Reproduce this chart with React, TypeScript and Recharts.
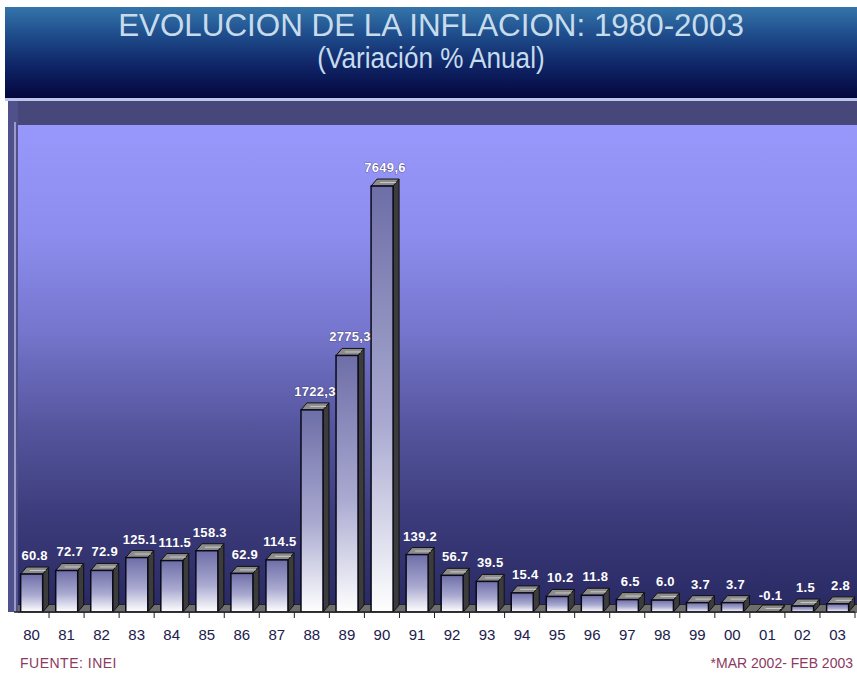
import { BarChart, Bar, XAxis, YAxis, LabelList } from 'recharts'

const years = ['80', '81', '82', '83', '84', '85', '86', '87', '88', '89', '90', '91', '92', '93', '94', '95', '96', '97', '98', '99', '00', '01', '02', '03']
const inflation = [60.8, 72.7, 72.9, 125.1, 111.5, 158.3, 62.9, 114.5, 1722.3, 2775.3, 7649.6, 139.2, 56.7, 39.5, 15.4, 10.2, 11.8, 6.5, 6.0, 3.7, 3.7, -0.1, 1.5, 2.8]
const valueLabels = ['60.8', '72.7', '72.9', '125.1', '111.5', '158.3', '62.9', '114.5', '1722,3', '2775,3', '7649,6', '139.2', '56.7', '39.5', '15.4', '10.2', '11.8', '6.5', '6.0', '3.7', '3.7', '-0.1', '1.5', '2.8']

const data = years.map((year, i) => ({ year, value: inflation[i], label: valueLabels[i] }))

const W = 857
const H = 674
const M = { top: 125, right: 2, left: 14, bottom: 32 }
const BAND = (W - M.left - M.right) / years.length
const DX = 6
const DY = -7
const BASE = H - M.bottom - 30

function Bar3D(props: any) {
  const { x, y, width, height, index } = props
  const top = height >= 0 ? y : y + height
  const h = Math.max(Math.abs(height), 1)
  const id = `front-${index}`
  return (
    <g>
      <defs>
        <linearGradient id={id} x1="0" y1="0" x2="0" y2="1">
          <stop offset="0%" stopColor="#6e6ea8" />
          <stop offset="55%" stopColor="#a8a8d0" />
          <stop offset="100%" stopColor="#ffffff" />
        </linearGradient>
      </defs>
      {/* side face */}
      <polygon
        points={`${x + width},${top} ${x + width + DX},${top + DY} ${x + width + DX},${top + h + DY} ${x + width},${top + h}`}
        fill="#3c3c3c"
        stroke="#111"
        strokeWidth={1}
      />
      {/* top face */}
      <polygon
        points={`${x},${top} ${x + DX},${top + DY} ${x + width + DX},${top + DY} ${x + width},${top}`}
        fill="#8c8c8c"
        stroke="#111"
        strokeWidth={1}
      />
      <line x1={x + DX + 3} y1={top + DY / 2} x2={x + width + DX - 3} y2={top + DY / 2} stroke="#c8c8c8" strokeWidth={1} />
      <rect x={x} y={top} width={width} height={h} fill={`url(#${id})`} stroke="#0a0a1a" strokeWidth={1.5} />
    </g>
  )
}

function ValueLabel(props: any) {
  const { x, y, width, value } = props
  return (
    <text
      x={x + width / 2 + DX / 2}
      y={y + DY - 7}
      textAnchor="middle"
      fontFamily="Liberation Sans, Arial, sans-serif"
      fontWeight="bold"
      fontSize={13}
      letterSpacing={0.3}
      fill="#ffffff"
      stroke="#34346a"
      strokeWidth={0.7}
      paintOrder="stroke"
    >
      {value}
    </text>
  )
}

function YearTick(props: any) {
  const { x, y, payload } = props
  return (
    <g>
      <line x1={x + BAND / 2} y1={BASE} x2={x + BAND / 2} y2={BASE + 6} stroke="#222" />
      <text
        x={x}
        y={y + 20}
        textAnchor="middle"
        fontFamily="Liberation Sans, Arial, sans-serif"
        fontSize={15}
        fill="#20204a"
      >
        {payload.value}
      </text>
    </g>
  )
}

export default function App() {
  return (
    <div style={{ position: 'absolute', left: 0, top: 0, width: W, height: H, background: '#fff', overflow: 'hidden' }}>
      {/* header */}
      <div
        style={{
          position: 'absolute',
          left: 5,
          top: 7,
          width: W - 5,
          height: 91,
          background: 'linear-gradient(to bottom, #3475aa 0%, #1f4d8c 30%, #0f2466 65%, #04073e 100%)',
        }}
      />
      <div
        style={{
          position: 'absolute',
          left: 5,
          top: 7,
          width: W - 5,
          textAlign: 'center',
          fontFamily: 'Liberation Sans, Arial, sans-serif',
          color: '#c6dcec',
          lineHeight: 1,
        }}
      >
        <div style={{ fontSize: 32, marginTop: 2, transform: 'scaleX(0.98)' }}>EVOLUCION DE LA INFLACION: 1980-2003</div>
        <div style={{ fontSize: 29, marginTop: 3, transform: 'scaleX(0.9)' }}>(Variación % Anual)</div>
      </div>
      <div style={{ position: 'absolute', left: 5, top: 98, width: W - 5, height: 3, background: '#bcc6ea' }} />
      <div style={{ position: 'absolute', left: 8, top: 101, width: W - 8, height: 24, background: '#47477a' }} />
      <div style={{ position: 'absolute', left: 8, top: 101, width: 10, height: BASE - 101, background: '#50508a' }} />
      <div style={{ position: 'absolute', left: 14, top: 122, width: 2, height: BASE - 122, background: '#9a9acc' }} />
      {/* plot background */}
      <div
        style={{
          position: 'absolute',
          left: 18,
          top: 125,
          width: W - 18,
          height: BASE - 125,
          background:
            'linear-gradient(to bottom, #9898fc 0%, #8d8def 22%, #7676ce 42%, #55559e 62%, #3c3c7c 80%, #282862 100%)',
        }}
      />
      {/* floor */}
      <div style={{ position: 'absolute', left: 18, top: BASE - 8, width: W - 18, height: 8, background: '#6e6e6e', borderTop: '1px solid #222' }} />
      <div style={{ position: 'absolute', left: 0, top: 0 }}>
        <BarChart width={W} height={H} data={data} margin={M} barCategoryGap="19%">
          <XAxis
            dataKey="year"
            height={30}
            axisLine={{ stroke: '#222', strokeWidth: 1.5 }}
            tickLine={false}
            tick={<YearTick />}
            interval={0}
          />
          <YAxis hide scale="sqrt" domain={[0, 10000]} allowDataOverflow />
          <Bar dataKey="value" shape={<Bar3D />} isAnimationActive={false}>
            <LabelList dataKey="label" content={<ValueLabel />} />
          </Bar>
        </BarChart>
      </div>
      <div
        style={{
          position: 'absolute',
          left: 20,
          top: 655,
          fontFamily: 'Liberation Sans, Arial, sans-serif',
          fontSize: 14,
          color: '#8c3a60',
          letterSpacing: 0.5,
        }}
      >
        FUENTE: INEI
      </div>
      <div
        style={{
          position: 'absolute',
          right: 4,
          top: 655,
          fontFamily: 'Liberation Sans, Arial, sans-serif',
          fontSize: 14,
          color: '#8c3a60',
        }}
      >
        *MAR 2002- FEB 2003
      </div>
    </div>
  )
}
